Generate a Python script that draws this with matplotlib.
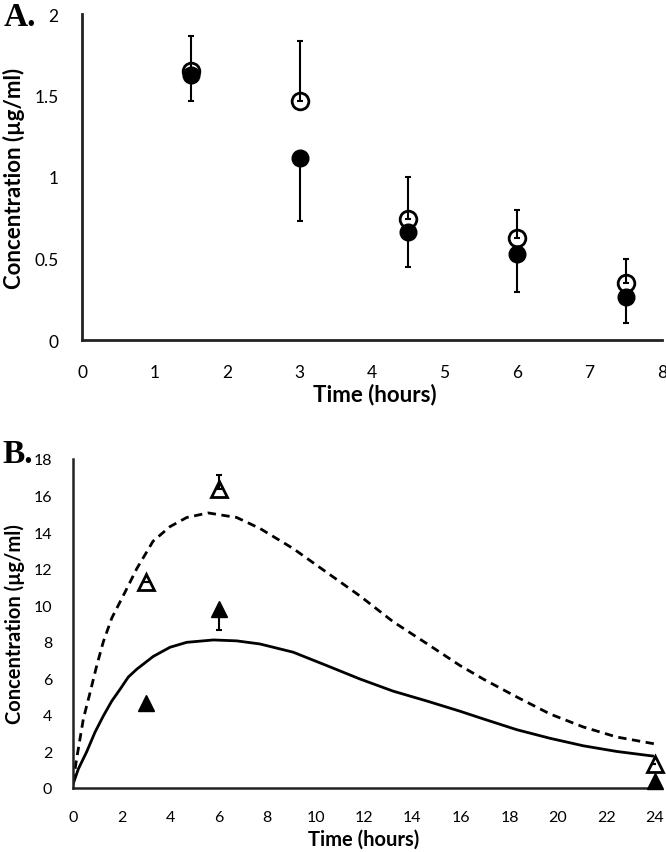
import matplotlib
matplotlib.use('Agg')
import matplotlib.pyplot as plt

plt.rcParams['font.family'] = ['Lato', 'DejaVu Sans']

# Panel A: measured concentrations
times_a = [1.5, 3, 4.5, 6, 7.5]
open_a = [1.65, 1.466, 0.742, 0.625, 0.35]
open_a_err = [0.215, 0.37, 0.26, 0.17, 0.15]
filled_a = [1.625, 1.117, 0.663, 0.528, 0.265]
filled_a_err = [0.16, 0.39, 0.215, 0.234, 0.16]
xticks_a = [0, 1, 2, 3, 4, 5, 6, 7, 8]
yticks_a = [0, 0.5, 1, 1.5, 2]
ylabels_a = ['0', '0.5', '1', '1.5', '2']

# Panel B: observed points and model curves
times_b = [3, 6, 24]
open_b = [11.27, 16.36, 1.3]
open_b_err = [0, 0.75, 0]
filled_b = [4.65, 9.8, 0.4]
filled_b_err = [0, 1.15, 0]

dash_t = [0, 0.15, 0.43, 0.7, 0.98, 1.25, 1.6, 2.14, 2.63, 3.3, 4.0, 4.69, 5.57, 6.75,
          7.71, 9.08, 10.46, 11.84, 13.2, 14.59, 15.96, 16.92, 18.3, 19.67, 21.04,
          22.42, 24.0]
dash_c = [0.3, 1.6, 3.8, 5.2, 6.7, 8.0, 9.3, 10.7, 12.0, 13.5, 14.3, 14.8, 15.05, 14.8,
          14.2, 13.1, 11.8, 10.5, 9.1, 7.9, 6.7, 5.96, 4.98, 4.05, 3.34,
          2.79, 2.41]
solid_t = [0, 0.22, 0.56, 0.91, 1.25, 1.6, 1.94, 2.28, 2.63, 3.31, 4.0, 4.69, 5.79,
           6.75, 7.71, 9.08, 10.46, 11.84, 13.2, 14.59, 15.96, 16.92, 18.3, 19.67,
           21.04, 22.42, 23.9]
solid_c = [0.2, 1.04, 1.97, 3.06, 3.94, 4.76, 5.4, 6.07, 6.5, 7.2, 7.7, 7.97, 8.1,
           8.05, 7.88, 7.43, 6.7, 5.96, 5.3, 4.76, 4.2, 3.78, 3.19, 2.72,
           2.31, 2.0, 1.75]
xticks_b = list(range(0, 25, 2))
yticks_b = list(range(0, 19, 2))


def style_axes(ax, lw):
    for s in ['top', 'right']:
        ax.spines[s].set_visible(False)
    for s in ['left', 'bottom']:
        ax.spines[s].set_linewidth(lw)
        ax.spines[s].set_color('#222222')
    ax.tick_params(length=0)


fig = plt.figure(figsize=(6.66, 8.53), dpi=100)

# ---- A ----
ax1 = fig.add_axes([82/666, 1-341/853, 580/666, 326/853])
style_axes(ax1, 2.0)
ax1.errorbar(times_a, open_a, yerr=[[0]*5, open_a_err], fmt='none', ecolor='black',
             elinewidth=1.5, capsize=2.5, capthick=1.5, zorder=2)
ax1.errorbar(times_a, filled_a, yerr=[filled_a_err, [0]*5], fmt='none', ecolor='black',
             elinewidth=1.5, capsize=2.5, capthick=1.5, zorder=2)
ax1.plot(times_a, open_a, 'o', ms=12, mfc='none', mec='black', mew=2, zorder=3)
ax1.plot(times_a, filled_a, 'o', ms=12, mfc='black', mec='black', zorder=4)
ax1.set_xlim(0, 8)
ax1.set_ylim(0, 2)
ax1.set_xticks(xticks_a)
ax1.set_yticks(yticks_a)
ax1.set_yticklabels(ylabels_a)
ax1.tick_params(axis='y', pad=17, labelsize=12.5)
ax1.tick_params(axis='x', pad=17, labelsize=12.5)
ax1.set_xlabel('Time (hours)', fontsize=16, fontweight='bold')
ax1.set_ylabel('Concentration (µg/ml)', fontsize=16, fontweight='bold')
ax1.xaxis.set_label_coords(0.505, -0.132)
ax1.yaxis.set_label_coords(-0.098, 0.5)
fig.text(4/666, 1-26/853, 'A.', family='Liberation Serif', fontweight='bold', fontsize=24)

# ---- B ----
ax2 = fig.add_axes([73/666, 1-789/853, 582/666, 329/853])
style_axes(ax2, 1.8)
ax2.plot(dash_t, dash_c, color='black', lw=2, ls=(0, (3, 2)), zorder=2)
ax2.plot(solid_t, solid_c, color='black', lw=2, zorder=2)
ax2.errorbar(times_b, open_b, yerr=[[0]*3, open_b_err], fmt='none', ecolor='black',
             elinewidth=1.5, capsize=2.5, capthick=1.5, zorder=3)
ax2.errorbar(times_b, filled_b, yerr=[filled_b_err, [0]*3], fmt='none', ecolor='black',
             elinewidth=1.5, capsize=2.5, capthick=1.5, zorder=3)
ax2.plot(times_b, open_b, '^', ms=11, mfc='none', mec='black', mew=2, zorder=4, clip_on=False)
ax2.plot(times_b, filled_b, '^', ms=11, mfc='black', mec='black', zorder=5, clip_on=False)
ax2.set_xlim(0, 24)
ax2.set_ylim(0, 18)
ax2.set_xticks(xticks_b)
ax2.set_yticks(yticks_b)
ax2.tick_params(axis='y', pad=15, labelsize=11.5)
ax2.tick_params(axis='x', pad=16, labelsize=11.5)
ax2.set_xlabel('Time (hours)', fontsize=14.5, fontweight='bold')
ax2.set_ylabel('Concentration (µg/ml)', fontsize=14.5, fontweight='bold')
ax2.xaxis.set_label_coords(0.5, -0.125)
ax2.yaxis.set_label_coords(-0.082, 0.5)
fig.text(2/666, 1-463/853, 'B.', family='Liberation Serif', fontweight='bold', fontsize=24)

fig.savefig('out.png', dpi=100)
